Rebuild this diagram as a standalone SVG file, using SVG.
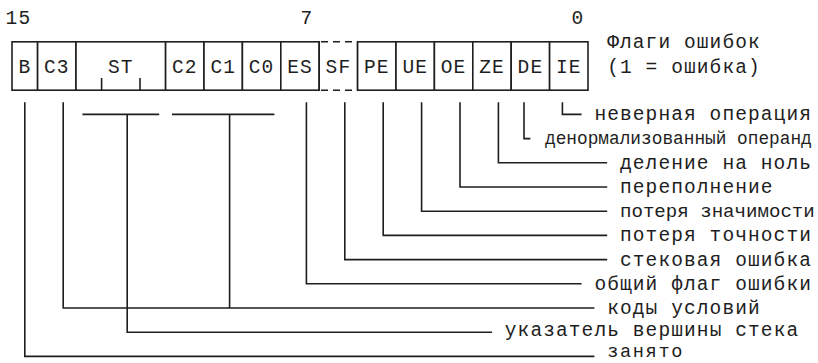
<svg xmlns="http://www.w3.org/2000/svg" width="818" height="363" viewBox="0 0 818 363">
  <style>
    text { font-family: "Liberation Mono", "Courier New", monospace; font-size: 19.5px; letter-spacing: 1.1px; fill: #1e1e1e; }
    .c { text-anchor: middle; }
    .cell { fill: #ffffff; stroke: #1e1e1e; stroke-width: 1.6; }
    .ln { fill: none; stroke: #1e1e1e; stroke-width: 1.6; }
    .dash { fill: none; stroke: #1e1e1e; stroke-width: 1.6; stroke-dasharray: 7 5; }
    .narrow { letter-spacing: 0; font-size: 17.8px; }
    .tight { letter-spacing: 0; font-size: 19.1px; }
    .small { font-size: 18.6px; letter-spacing: 1.64px; }
  </style>
  <rect width="818" height="363" fill="#ffffff"/>

  <!-- bit numbers -->
  <g id="bit-numbers">
    <text class="c" x="18.4" y="24">15</text>
    <text class="c" x="307" y="24">7</text>
    <text class="c" x="578" y="24">0</text>
  </g>

  <!-- register cells -->
  <g id="cell-B"><rect class="cell" x="12" y="41.8" width="25.6" height="48.4"/><text class="c" x="24.8" y="72.5">B</text></g>
  <g id="cell-C3"><rect class="cell" x="37.6" y="41.8" width="38.4" height="48.4"/><text class="c" x="56.8" y="72.5">C3</text></g>
  <g id="cell-ST">
    <rect class="cell" x="76" y="41.8" width="89.6" height="48.4"/>
    <text class="c" x="120.8" y="72.5">ST</text>
    <path class="ln" d="M101.6 90.2V78M140 90.2V78"/>
  </g>
  <g id="cell-C2"><rect class="cell" x="165.6" y="41.8" width="38.4" height="48.4"/><text class="c" x="184.8" y="72.5">C2</text></g>
  <g id="cell-C1"><rect class="cell" x="204" y="41.8" width="38.4" height="48.4"/><text class="c" x="223.2" y="72.5">C1</text></g>
  <g id="cell-C0"><rect class="cell" x="242.4" y="41.8" width="38.4" height="48.4"/><text class="c" x="261.6" y="72.5">C0</text></g>
  <g id="cell-ES"><rect class="cell" x="280.8" y="41.8" width="38.4" height="48.4"/><text class="c" x="300" y="72.5">ES</text></g>
  <g id="cell-SF">
    <path class="ln" d="M319.2 41.8V90.2M357.6 41.8V90.2"/>
    <path class="dash" d="M321 41.8H357.6M321 90.2H357.6"/>
    <text class="c" x="338.4" y="72.5">SF</text>
  </g>
  <g id="cell-PE"><rect class="cell" x="357.6" y="41.8" width="38.4" height="48.4"/><text class="c" x="376.8" y="72.5">PE</text></g>
  <g id="cell-UE"><rect class="cell" x="396" y="41.8" width="38.4" height="48.4"/><text class="c" x="415.2" y="72.5">UE</text></g>
  <g id="cell-OE"><rect class="cell" x="434.4" y="41.8" width="38.4" height="48.4"/><text class="c" x="453.6" y="72.5">OE</text></g>
  <g id="cell-ZE"><rect class="cell" x="472.8" y="41.8" width="38.4" height="48.4"/><text class="c" x="492" y="72.5">ZE</text></g>
  <g id="cell-DE"><rect class="cell" x="511.2" y="41.8" width="38.4" height="48.4"/><text class="c" x="530.4" y="72.5">DE</text></g>
  <g id="cell-IE"><rect class="cell" x="549.6" y="41.8" width="38.4" height="48.4"/><text class="c" x="568.8" y="72.5">IE</text></g>

  <!-- caption -->
  <g id="caption">
    <text x="607.2" y="48">Флаги ошибок</text>
    <text x="607.2" y="72.5">(1 = ошибка)</text>
  </g>

  <!-- leader lines from the bits to their descriptions -->
  <g id="connectors">
    <path class="ln" d="M562.4 102.3V114.4H581.6"/>
    <path class="ln" d="M524 102.3V138.6H530.4"/>
    <path class="ln" d="M498.4 102.3V162.8H607.2"/>
    <path class="ln" d="M460 102.3V187H607.2"/>
    <path class="ln" d="M421.6 102.3V211.2H607.2"/>
    <path class="ln" d="M383.2 102.3V235.4H607.2"/>
    <path class="ln" d="M344.8 102.3V259.6H607.2"/>
    <path class="ln" d="M306.4 102.3V283.8H581.6"/>
    <!-- condition codes: C3 plus the C2..C0 bracket -->
    <path class="ln" d="M172 114.4H274.4M229.6 114.4V308"/>
    <path class="ln" d="M63.2 102.3V308H594.4"/>
    <!-- stack top bracket -->
    <path class="ln" d="M82.4 114.4H159.2M127.2 114.4V332.2H492"/>
    <path class="ln" d="M24.8 102.3V356.4H594.4"/>
  </g>

  <!-- descriptions -->
  <g id="labels">
    <text x="594.4" y="120.4">неверная операция</text>
    <text class="narrow" x="545" y="144.2">денормализованный операнд</text>
    <text x="620" y="168.8">деление на ноль</text>
    <text x="620" y="193">переполнение</text>
    <text class="tight" x="620" y="217.2">потеря значимости</text>
    <text x="620" y="241.4">потеря точности</text>
    <text x="620" y="265.6">стековая ошибка</text>
    <text x="594.4" y="289.8">общий флаг ошибки</text>
    <text x="607.2" y="314">коды условий</text>
    <text x="504.8" y="336.4">указатель вершины стека</text>
    <text class="small" x="607.2" y="357.2">занято</text>
  </g>
</svg>
